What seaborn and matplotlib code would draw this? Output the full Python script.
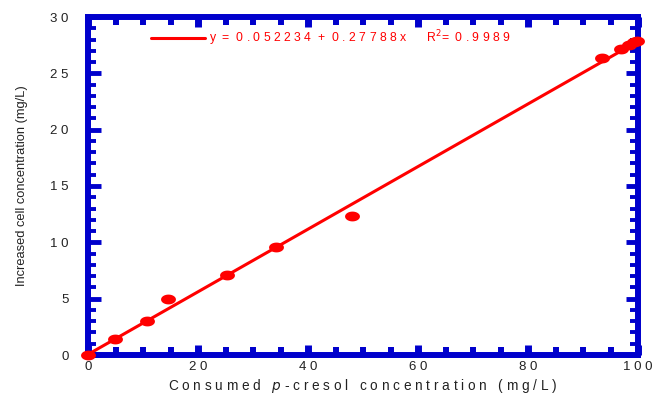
import numpy as np
import pandas as pd
import matplotlib
matplotlib.use("Agg")
import matplotlib.pyplot as plt
from matplotlib.path import Path
from matplotlib.ticker import MultipleLocator, FixedLocator
import seaborn as sns

# data
consumed = [0.0, 4.9, 10.7, 14.5, 25.3, 34.2, 48.0, 93.5, 96.9, 98.4, 99.3, 99.8]
increased = [0.0, 1.42, 3.0, 4.97, 7.1, 9.6, 12.3, 26.4, 27.2, 27.5, 27.8, 27.9]
intercept = 0.052234
slope = 0.27788
r2 = 0.9989
x_ticks = [0, 20, 40, 60, 80, 100]
y_ticks = [0, 5, 10, 15, 20, 25, 30]

sns.set_theme(style="white")
plt.rcParams["font.family"] = ["Liberation Sans", "DejaVu Sans"]

blue = "#0000CC"
red = "#FF0000"

fig = plt.figure(figsize=(6.67, 3.97), dpi=100)
ax = fig.add_axes([88 / 667, 1 - 355 / 397, 550 / 667, 338 / 397])

fit_x = np.array([0.0, 100.0])
fit_df = pd.DataFrame({"x": fit_x, "y": intercept + slope * fit_x})
label = "y  =  0 . 0 5 2 2 3 4  +  0 . 2 7 7 8 8 x      R$^2$=  0 . 9 9 8 9"
sns.lineplot(data=fit_df, x="x", y="y", ax=ax, color=red, linewidth=2.2,
             label=label, zorder=4)

t = np.linspace(0, 2 * np.pi, 40)
ell = Path(np.column_stack([np.cos(t), 0.66 * np.sin(t)]))
df = pd.DataFrame({"x": consumed, "y": increased})
sns.scatterplot(data=df, x="x", y="y", ax=ax, marker=ell, s=115, color=red,
                edgecolor=red, linewidth=0, zorder=5, clip_on=False)

ax.set_xlim(0, 100)
ax.set_ylim(0, 30)
for sp in ax.spines.values():
    sp.set_visible(True)
    sp.set_color(blue)
    sp.set_linewidth(4.3)

ax.xaxis.set_major_locator(FixedLocator(x_ticks))
ax.xaxis.set_minor_locator(MultipleLocator(5))
ax.yaxis.set_major_locator(FixedLocator(y_ticks))
ax.yaxis.set_minor_locator(MultipleLocator(1))
ax.set_xticklabels([" ".join(str(v)) for v in x_ticks])
ax.set_yticklabels([" ".join(str(v)) for v in y_ticks])

ax.tick_params(axis="x", which="major", direction="in", length=7, width=5,
               color=blue, top=True, bottom=True, labelsize=9.5, pad=4,
               labelcolor="#222222")
ax.tick_params(axis="x", which="minor", direction="in", length=5.5, width=4.3,
               color=blue, top=True, bottom=True)
ax.tick_params(axis="y", which="major", direction="in", length=9, width=3.5,
               color=blue, left=True, right=True, labelsize=9.5, pad=14,
               labelcolor="#222222")
ax.tick_params(axis="y", which="minor", direction="in", length=6, width=2.8,
               color=blue, left=True, right=True)

ax.set_xlabel("C o n s u m e d   $\\it{p}$ - c r e s o l   c o n c e n t r a t i o n   ( m g / L )",
              fontsize=9.8, color="#222222", labelpad=3)
ax.set_ylabel("Increased cell concentration (mg/L)", fontsize=9.3, color="#222222",
              labelpad=16)

leg = ax.legend(loc="upper left", bbox_to_anchor=(0.095, 1.0), frameon=False,
                fontsize=8.8, labelcolor=red, handlelength=4.4, handletextpad=0.3)

fig.savefig("out.png", dpi=100)
